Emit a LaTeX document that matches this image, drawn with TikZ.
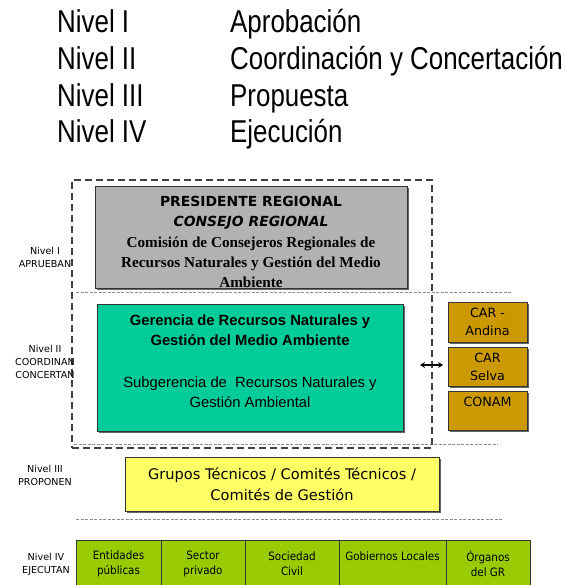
\documentclass[tikz,border=0pt]{standalone}
\usepackage{fontspec}
\setmainfont{Liberation Sans}
\newfontfamily\hdrfont[FakeStretch=0.82]{Liberation Sans}
\newfontfamily\comic{DejaVu Sans}
\newfontfamily\tnr{Liberation Serif}
\newfontfamily\ari{Liberation Sans}
\newfontfamily\tah[FakeStretch=0.9]{DejaVu Sans}
\usetikzlibrary{arrows.meta,shadows}
\definecolor{cgray}{HTML}{B2B2B2}
\definecolor{cteal}{HTML}{00CC99}
\definecolor{corange}{HTML}{CC9900}
\definecolor{cyellow}{HTML}{FFFF66}
\definecolor{cgreen}{HTML}{99CC00}
\begin{document}
\begin{tikzpicture}[x=1pt,y=-1pt,
  hdr/.style={font=\hdrfont\fontsize{31.6}{36}\selectfont, inner sep=0pt, anchor=base west},
  framebox/.style={draw=black!75, line width=1.4pt, dash pattern=on 7pt off 4pt},
  sepline/.style={draw=black!45, line width=0.8pt, dash pattern=on 3pt off 1.5pt},
  shad/.style={drop shadow={shadow xshift=2pt, shadow yshift=-2pt, opacity=1, fill=black!60}},
  panel/.style={draw=black!80, line width=0.6pt, shad},
  lvl/.style={font=\comic\fontsize{9.6}{13}\selectfont, align=center, inner sep=0pt},
  orbox/.style={panel, fill=corange, minimum width=79pt, align=center,
    font=\comic\fontsize{12.7}{18}\selectfont, inner sep=0pt},
  cell/.style={draw=black!80, line width=0.6pt, fill=cgreen, minimum height=47pt,
    align=center, font=\tah\fontsize{11.5}{15}\selectfont, inner sep=0pt},
  dblarrow/.style={{Stealth[length=5pt,width=6pt]}-{Stealth[length=5pt,width=6pt]}, line width=1.1pt}
]
\useasboundingbox (0,0) rectangle (565,585);

% header
\node[hdr] (n1) at (57,33) {Nivel I};
\node[hdr] (d1) at (230,33) {Aprobación};
\node[hdr] (n2) at (57,69.7) {Nivel II};
\node[hdr] (d2) at (230,69.7) {Coordinación y Concertación};
\node[hdr] (n3) at (57,106.3) {Nivel III};
\node[hdr] (d3) at (230,106.3) {Propuesta};
\node[hdr] (n4) at (57,143) {Nivel IV};
\node[hdr] (d4) at (230,143) {Ejecución};

% separators
\draw[sepline] (76,292) -- (512,292);
\draw[sepline] (74,444) -- (498,444);
\draw[sepline] (76,519) -- (503,519);

% dashed frame
\node[framebox, minimum width=360pt, minimum height=268pt, inner sep=0pt] (frame) at (252,314) {};

% level I box
\node[panel, fill=cgray, minimum width=312pt, minimum height=102pt] (pres) at (251,237) {};
\node[align=center, inner sep=0pt, font=\tnr\bfseries\fontsize{15.2}{20.2}\selectfont] (prestxt) at (251,242) {%
  {\comic\bfseries\fontsize{13.9}{20.2}\selectfont PRESIDENTE REGIONAL}\\
  {\comic\bfseries\itshape\fontsize{13.9}{20.2}\selectfont CONSEJO REGIONAL}\\
  Comisión de Consejeros Regionales de\\
  Recursos Naturales y Gestión del Medio\\
  Ambiente};

% level II box
\node[panel, fill=cteal, minimum width=306pt, minimum height=127pt] (ger) at (250,367.5) {};
\node[align=center, inner sep=0pt, font=\ari\fontsize{14.8}{20}\selectfont] (gertxt) at (250,361) {%
  \textbf{Gerencia de Recursos Naturales y}\\
  \textbf{Gestión del Medio Ambiente}\\[22pt]
  Subgerencia de~ Recursos Naturales y\\
  Gestión Ambiental};

% side boxes
\node[orbox, minimum height=40pt] (cara) at (487.5,322) {CAR -\\Andina};
\node[orbox, minimum height=39pt] (cars) at (487.5,366.5) {CAR\\Selva};
\node[orbox, minimum height=39pt] (conam) at (487.5,410.5) {CONAM\\\mbox{}};

% double arrow
\coordinate (aL) at (420,365);
\coordinate (aR) at (443,365);
\draw[dblarrow] (aL) -- (aR);

% level III box
\node[panel, fill=cyellow, minimum width=314pt, minimum height=54pt, align=center,
  font=\comic\fontsize{14.6}{21}\selectfont, inner sep=0pt] (grupos) at (282,484)
  {Grupos Técnicos / Comités Técnicos /\\Comités de Gestión};

% level IV table
\node[cell, minimum width=85pt] (c1) at (118.5,563.5) {Entidades\\públicas};
\node[cell, minimum width=84pt] (c2) at (203,563.5) {Sector\\privado};
\node[cell, minimum width=94pt] (c3) at (292,563.5) {Sociedad\\Civil};
\node[cell, minimum width=107pt] (c4) at (392.5,563.5) {Gobiernos Locales\\\mbox{}};
\node[cell, minimum width=84pt] (c5) at (488,563.5) {Órganos\\del GR};

% level labels
\node[lvl] (l1) at (45,257.5) {Nivel I\\APRUEBAN};
\node[lvl] (l2) at (45,362) {Nivel II\\COORDINAN\\CONCERTAN};
\node[lvl] (l3) at (45,475.5) {Nivel III\\PROPONEN};
\node[lvl] (l4) at (46,564) {Nivel IV\\EJECUTAN};
\end{tikzpicture}
\end{document}
